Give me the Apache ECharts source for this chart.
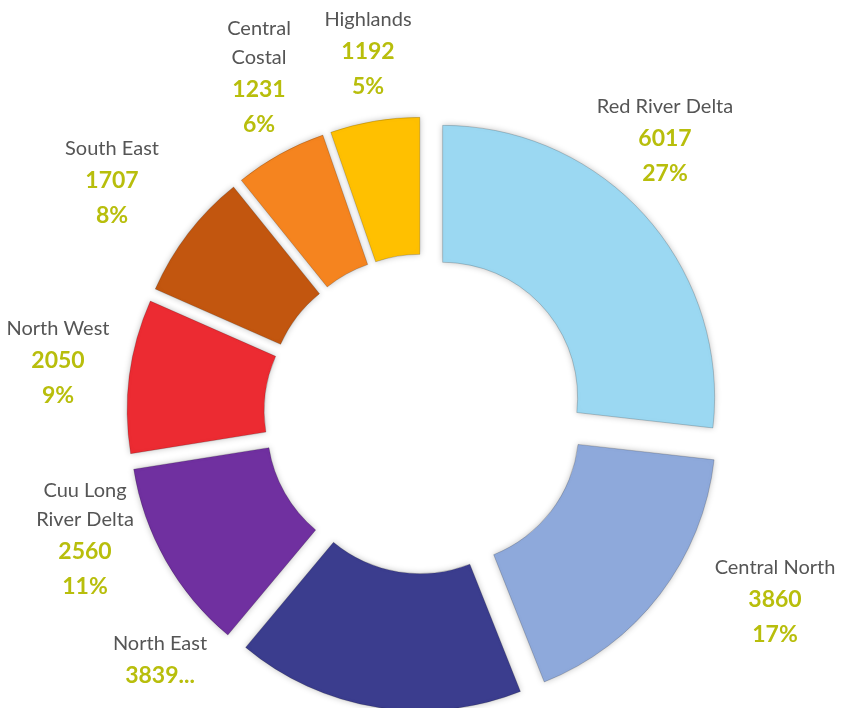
<!DOCTYPE html>
<html>
<head>
<meta charset="utf-8">
<script src="https://cdn.jsdelivr.net/npm/echarts@6/dist/echarts.min.js"></script>
<style>
html,body{margin:0;padding:0;background:#fff;}
#chart{width:842px;height:708px;}
</style>
</head>
<body>
<div id="chart"></div>
<script>
const regions = ['Red River Delta','Central North','North East','Cuu Long River Delta','North West','South East','Central Costal','Highlands'];
const labelNames = ['Red River Delta','Central North','North East','Cuu Long\nRiver Delta','North West','South East','Central\nCostal','Highlands'];
const values = [6017,3860,3839,2560,2050,1707,1231,1192];
const colors = ['#9BD8F2','#8EA9DB','#3B3D8E','#7030A0','#EC2B32','#C2560F','#F5841F','#FFC000'];
const labelPos = [[665,142],[775,603],[160,661],[85,540],[58,364],[112,184],[259,78],[368,55]];

// integer percentages (largest remainder, like the source)
function roundedPercents(vals){
  const total = vals.reduce((a,b)=>a+b,0);
  const raw = vals.map(v=>v/total*100);
  const fl = raw.map(Math.floor);
  let left = 100 - fl.reduce((a,b)=>a+b,0);
  const order = raw.map((r,i)=>[r-fl[i],i]).sort((a,b)=>b[0]-a[0]);
  for (let k=0;k<left;k++) fl[order[k][1]]++;
  return fl;
}
const pcts = roundedPercents(values);

const chart = echarts.init(document.getElementById('chart'), null, {renderer:'canvas'});
const data = regions.map((r,i)=>({
  name: r,
  value: values[i],
  selected: true,
  itemStyle: {color: colors[i]}
}));

const rich = {
  n: {fontFamily:'Lato', fontSize: 20, fill: '#555555', lineHeight: 29, align:'center'},
  v: {fontFamily:'Lato', fontSize: 23, fontWeight: 'bold', fill: '#B8BE0C', lineHeight: 35, align:'center'}
};

const texts = regions.map((r,i)=>{
  const nm = labelNames[i].split('\n').map(s=>'{n|'+s+'}').join('\n');
  const txt = (i === 2) ? nm + '\n{v|' + values[i] + '...}'
                        : nm + '\n{v|' + values[i] + '}\n{v|' + pcts[i] + '%}';
  return {
    type: 'text',
    x: labelPos[i][0],
    y: labelPos[i][1],
    silent: true,
    style: {
      text: txt,
      rich: rich,
      align: 'center',
      verticalAlign: 'middle',
      fontFamily: 'Lato',
      fill: '#555555'
    }
  };
});

chart.setOption({
  animation: false,
  graphic: texts,
  series: [{
    type: 'pie',
    center: [424, 414],
    radius: [135, 272],
    startAngle: 90,
    clockwise: true,
    selectedMode: 'multiple',
    selectedOffset: 25,
    emphasis: {disabled: true},
    itemStyle: {
      borderColor: 'rgba(0,0,0,0.18)',
      borderWidth: 1,
      shadowBlur: 6,
      shadowColor: 'rgba(0,0,0,0.25)'
    },
    label: {show: false},
    labelLine: {show: false},
    data: data
  }]
});
</script>
</body>
</html>
